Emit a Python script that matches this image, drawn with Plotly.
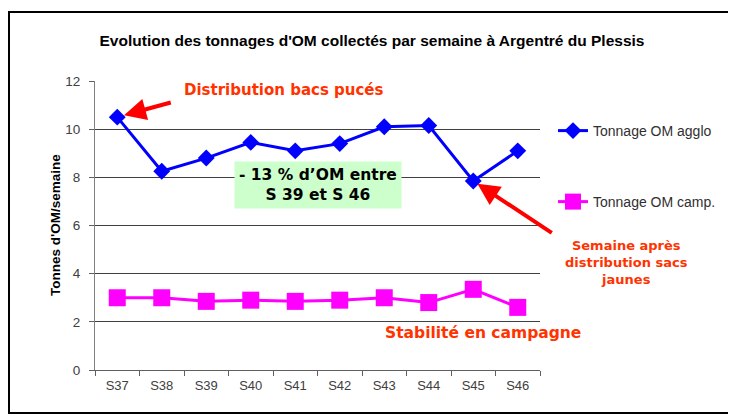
import plotly.graph_objects as go

weeks = ["S37", "S38", "S39", "S40", "S41", "S42", "S43", "S44", "S45", "S46"]
om_agglo = [10.5, 8.25, 8.8, 9.45, 9.1, 9.4, 10.1, 10.15, 7.85, 9.1]
om_camp = [3.0, 3.0, 2.85, 2.9, 2.85, 2.9, 3.0, 2.8, 3.35, 2.6]
y_ticks = [0, 2, 4, 6, 8, 10, 12]

title_text = "Evolution des tonnages d'OM collectés par semaine à Argentré du Plessis"
y_title = "Tonnes d'OM/semaine"
note_bacs = "Distribution bacs pucés"
note_sacs = "Semaine après<br>distribution sacs<br>jaunes"
note_camp = "Stabilité en campagne"
note_pct = "- 13 % d’OM entre<br>S 39 et S 46"

OFF = 8  # default page body margin
W, H = 736 - OFF, 417 - OFF
L, R, T, B = 95, 540, 81, 370  # plot area in window pixels
pw, ph = R - L, B - T

def px(x):
    return (x - L) / pw

def py(y):
    return (B - y) / ph

fig = go.Figure()
fig.add_trace(go.Scatter(
    x=weeks, y=om_agglo, mode="lines+markers", name="Tonnage OM agglo",
    line=dict(color="#0000ff", width=3),
    marker=dict(symbol="diamond", size=13, color="#0000ff"),
    legend="legend",
))
fig.add_trace(go.Scatter(
    x=weeks, y=om_camp, mode="lines+markers", name="Tonnage OM camp.",
    line=dict(color="#ff00ff", width=3),
    marker=dict(symbol="square", size=17, color="#ff00ff"),
    legend="legend2",
))

red_txt = "#ff3300"
note_font = "DejaVu Sans"

def note(text, x, y, size, color=red_txt, **kw):
    return dict(text=text, xref="paper", yref="paper", x=px(x), y=py(y),
                xanchor="center", yanchor="middle", showarrow=False, align="center",
                font=dict(family=kw.pop("family", note_font), size=size, color=color,
                          weight="bold"), **kw)

annotations = [
    note(y_title, 55, 225, 13.5, color="#000000", family="Liberation Sans", textangle=-90),
    note(note_bacs, 284, 90, 15),
    note(note_camp, 483, 333, 15.5),
    note(note_sacs, 626, 262, 13),
    note(note_pct, 318, 185, 15.5, color="#000000", bgcolor="#ccffcc", borderpad=4),
    dict(text="", x=weeks[0], y=om_agglo[0], xref="x", yref="y",
         showarrow=True, ax=55, ay=-15, arrowcolor="#ff0000", arrowwidth=4,
         arrowhead=2, arrowsize=1.1, standoff=7),
    dict(text="", x=weeks[8], y=om_agglo[8], xref="x", yref="y",
         showarrow=True, ax=80, ay=53, arrowcolor="#ff0000", arrowwidth=4,
         arrowhead=2, arrowsize=1.1, standoff=5),
]

shapes = [
    # outer frame
    dict(type="rect", xref="paper", yref="paper", x0=px(9), x1=px(734), y0=py(413), y1=py(12),
         line=dict(color="#000000", width=2), layer="above"),
    # white backgrounds of text boxes hiding gridlines
    dict(type="rect", xref="paper", yref="y", x0=px(155), x1=px(413), y0=11.7, y1=12.3,
         fillcolor="#ffffff", line=dict(width=0), layer="between"),
    dict(type="rect", xref="paper", yref="y", x0=px(355), x1=1.0, y0=1.7, y1=2.3,
         fillcolor="#ffffff", line=dict(width=0), layer="between"),
    dict(type="rect", xref="paper", yref="y", x0=px(529), x1=1.0, y0=3.7, y1=4.3,
         fillcolor="#ffffff", line=dict(width=0), layer="between"),
]

fig.update_layout(
    width=W, height=H,
    margin=dict(l=L - OFF, r=736 - R, t=T - OFF, b=417 - B, pad=0),
    paper_bgcolor="#ffffff", plot_bgcolor="#ffffff",
    font=dict(family="Liberation Sans", size=13, color="#404040"),
    title=dict(text=title_text, x=(372 - OFF) / W, xanchor="center", y=1 - (41 - OFF) / H,
               yanchor="middle",
               font=dict(family="Liberation Sans", size=15.5, color="#000000", weight="bold")),
    xaxis=dict(type="category", range=[-0.5, len(weeks) - 0.5], showgrid=False, showline=True,
               linecolor="#606060", linewidth=1, ticks="outside", ticklen=5, tickcolor="#606060",
               tickson="boundaries", tickfont=dict(size=13, color="#404040"), fixedrange=True,
               ticklabelstandoff=3),
    yaxis=dict(range=[0, 12], tickvals=y_ticks, showgrid=True, gridcolor="#404040", gridwidth=1,
               showline=True, linecolor="#808080", linewidth=1, ticks="outside", ticklen=5,
               tickcolor="#606060", tickfont=dict(size=13.5, color="#404040"), zeroline=False,
               ticklabelstandoff=6),
    legend=dict(x=px(553), y=py(131), xanchor="left", yanchor="middle",
                font=dict(family="Liberation Sans", size=14, color="#303030"),
                bgcolor="rgba(0,0,0,0)"),
    legend2=dict(x=px(553), y=py(202), xanchor="left", yanchor="middle",
                 font=dict(family="Liberation Sans", size=14, color="#303030"),
                 bgcolor="rgba(0,0,0,0)"),
    annotations=annotations,
    shapes=shapes,
    showlegend=True,
)

fig.write_html("out.html")
